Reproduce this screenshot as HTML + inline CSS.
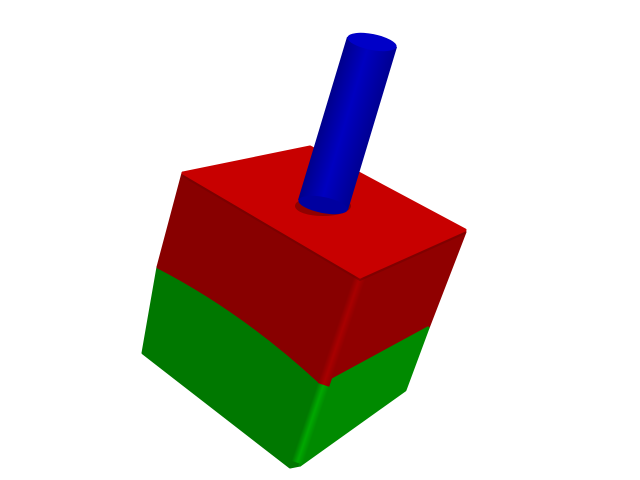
<!DOCTYPE html>
<html><head><meta charset="utf-8"><style>body{margin:0;background:#fff}svg{display:block}</style></head>
<body>
<svg width="640" height="480" viewBox="0 0 640 480">
<defs>
<linearGradient id="cyl" gradientUnits="userSpaceOnUse" x1="347" y1="35" x2="397" y2="50">
<stop offset="0" stop-color="#00008a"/><stop offset="0.45" stop-color="#0000c0"/><stop offset="1" stop-color="#000090"/></linearGradient>
<linearGradient id="edgeR" gradientUnits="userSpaceOnUse" x1="-6" y1="0" x2="6" y2="0">
<stop offset="0" stop-color="#880000"/><stop offset="0.5" stop-color="#a80000"/><stop offset="1" stop-color="#900000"/></linearGradient>
<linearGradient id="edgeG" gradientUnits="userSpaceOnUse" x1="-6" y1="0" x2="6" y2="0">
<stop offset="0" stop-color="#007800"/><stop offset="0.5" stop-color="#00a800"/><stop offset="1" stop-color="#008a00"/></linearGradient>
</defs>
<path d="M147,330 L158,267 Q245,312 323,385 L300,465 L290,467 L143,353 Z" fill="#007800" stroke="#007800" stroke-width="3" stroke-linejoin="round"/>
<path d="M183,173 L360,277 L323,385 Q245,312 158,267 Z" fill="#880000" stroke="#880000" stroke-width="3" stroke-linejoin="round"/>
<polygon points="360,277 465,232 428,328 323,385" fill="#900000" stroke="#900000" stroke-width="3" stroke-linejoin="round"/>
<polygon points="323,385 428,328 405,390 300,465" fill="#008a00" stroke="#008a00" stroke-width="3" stroke-linejoin="round"/>
<g transform="translate(360,277) rotate(18.7)">
<rect x="-6" y="0" width="12" height="114" fill="url(#edgeR)"/>
<rect x="-6" y="114" width="12" height="82" fill="url(#edgeG)"/>
</g>
<polygon points="183,173 310,147 465,230 360,277" fill="#c80000" stroke="#c80000" stroke-width="3" stroke-linejoin="round"/>
<polyline points="183,176 360,280 465,233" fill="none" stroke="#700000" stroke-width="2" opacity="0.5"/>
<ellipse cx="323" cy="206" rx="28" ry="10" fill="#900000"/>
<polygon points="347,37 397,47 348,210 298,200" fill="url(#cyl)"/>
<ellipse cx="323" cy="205" rx="25" ry="8" transform="rotate(11 323 205)" fill="#0000a0"/>
<ellipse cx="372" cy="42" rx="25" ry="8" transform="rotate(11 372 42)" fill="#0000c8"/>
</svg>
</body></html>
